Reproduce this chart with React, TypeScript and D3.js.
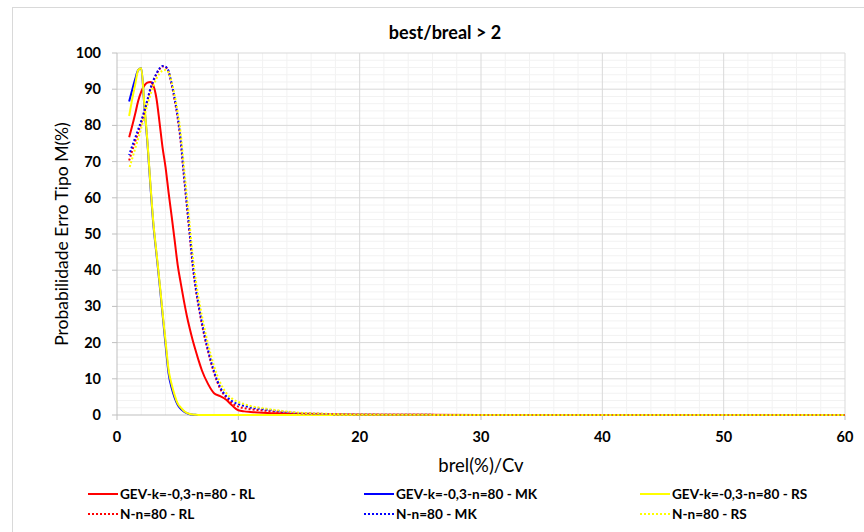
import React from "react";
import * as d3 from "d3";

const xs = [1,1.25,1.5,1.75,2,2.25,2.5,2.75,3,3.25,3.5,3.75,4,4.25,4.5,4.75,5,5.25,5.5,5.75,6,6.25,6.5,6.75,7,7.5,8,8.5,9,9.5,10,10.5,11,12,13,14,15,17,20,25,30,40,50,60];

const gevRL = [76.7,79.8,83.2,86.8,89.3,91,91.8,92,91,87.5,81,74,68.5,61.5,55,48.3,41.5,36.5,31.8,27.5,23.8,20.5,17.6,14.8,12.3,8.6,6.0,5.2,4.2,2.6,1.3,1.0,0.85,0.6,0.45,0.35,0.25,0.15,0.1,0.05,0,0,0,0];
const gevMK = [86.6,89.8,92.8,95.3,95.8,85.5,75.5,63.5,52.5,44.5,36.5,28,19.5,11.5,7.5,4.8,2.8,1.7,1.0,0.5,0.2,0.1,0.05,0,0,0,0,0,0,0,0,0,0,0,0,0,0,0,0,0,0,0,0,0];
const gevRS = [82.6,87.2,91.3,95.3,95.8,86,76,64,53,45,37,28.5,20.5,12.5,8.5,5.5,3.2,2.1,1.2,0.6,0.3,0.15,0.08,0.03,0,0,0,0,0,0,0,0,0,0,0,0,0,0,0,0,0,0,0,0];
const nRL = [70.3,73,75.6,78.1,80.7,83.6,86.7,89.9,92.2,94.1,95.5,96.3,96.1,94.8,91.3,87,82,75.5,66.5,58,49.5,41,34.5,29.5,25,17.6,11.6,7.3,4.8,3.2,2.3,1.9,1.6,1.25,0.95,0.7,0.5,0.3,0.15,0.05,0,0,0,0];
const nMK = [71.8,74.3,76.6,78.9,81.3,84,87,90.2,92.5,94.3,95.7,96.4,96.2,95,91.6,87.5,82.5,76,67,58.5,50,41.5,35,30,25.5,18,12,7.7,5.2,3.8,3.0,2.5,2.1,1.6,1.2,0.8,0.55,0.3,0.15,0.05,0,0,0,0];
const nRS = [68,70.8,73.6,76.4,79.3,82.4,85.5,88.4,90.9,92.9,94.3,95.1,95.3,94.6,92,88.3,83.8,77.8,69.3,60.8,52.3,43.8,37.2,32,27.4,19.7,13.5,9,6.1,4.5,3.6,3.0,2.5,1.9,1.4,0.95,0.65,0.35,0.15,0.05,0,0,0,0];

const seriesNames = [
  "GEV-k=-0,3-n=80 - RL",
  "GEV-k=-0,3-n=80 - MK",
  "GEV-k=-0,3-n=80 - RS",
  "N-n=80 - RL",
  "N-n=80 - MK",
  "N-n=80 - RS",
];
const seriesValues = [gevRL, gevMK, gevRS, nRL, nMK, nRS];
const seriesColors = ["#FF0000", "#0000FF", "#FFFF00", "#FF0000", "#0000FF", "#FFFF00"];
const seriesDotted = [false, false, false, true, true, true];
const dashOffsets = [0, 0, 0, 0, 1, 2];

const xTicks = [0, 10, 20, 30, 40, 50, 60];
const yTicks = [0, 10, 20, 30, 40, 50, 60, 70, 80, 90, 100];
const xMinor = d3.range(0, 61, 2);
const yMinor = d3.range(0, 101, 2);

const titleText = "best/breal > 2";
const xTitle = "brel(%)/Cv";
const yTitle = "Probabilidade Erro Tipo M(%)";

const W = 864, H = 532;
const L = 117, R = 845, T = 53, B = 415;
const FONT = "Lato, 'Open Sans', sans-serif";

export default function App() {
  const x = d3.scaleLinear().domain([0, 60]).range([L, R]);
  const y = d3.scaleLinear().domain([0, 100]).range([B, T]);
  const line = d3
    .line<number>()
    .x((_, i) => x(xs[i]))
    .y((v) => y(v))
    .curve(d3.curveMonotoneX);

  const legendCols = [88, 364, 640];
  const legendRows = [494, 514];

  return (
    <svg
      width={W}
      height={H}
      style={{ position: "absolute", left: 0, top: 0, background: "#fff" }}
      fontFamily={FONT}
    >
      <rect x={0} y={0} width={W} height={H} fill="#fff" />
      <rect x={12.5} y={7.5} width={880} height={560} fill="none" stroke="#D9D9D9" />
      <text x={445} y={39} textAnchor="middle" fontWeight="bold" fontSize={18} fill="#000">
        {titleText}
      </text>
      {/* minor grid */}
      {xMinor.filter((v) => v % 10 !== 0).map((v) => (
        <line key={"xm" + v} x1={x(v)} x2={x(v)} y1={T} y2={B} stroke="#F2F2F2" strokeWidth={1} />
      ))}
      {yMinor.filter((v) => v % 10 !== 0).map((v) => (
        <line key={"ym" + v} x1={L} x2={R} y1={y(v)} y2={y(v)} stroke="#F2F2F2" strokeWidth={1} />
      ))}
      {/* major grid */}
      {xTicks.filter((v) => v !== 0).map((v) => (
        <line key={"xg" + v} x1={x(v)} x2={x(v)} y1={T} y2={B} stroke="#D9D9D9" strokeWidth={1} />
      ))}
      {yTicks.filter((v) => v !== 0).map((v) => (
        <line key={"yg" + v} x1={L} x2={R} y1={y(v)} y2={y(v)} stroke="#D9D9D9" strokeWidth={1} />
      ))}
      {/* axes */}
      <line x1={L} x2={L} y1={T} y2={B} stroke="#BFBFBF" />
      <line x1={L} x2={R} y1={B} y2={B} stroke="#BFBFBF" />
      {xTicks.map((v) => (
        <line key={"xt" + v} x1={x(v)} x2={x(v)} y1={B} y2={B + 5} stroke="#BFBFBF" />
      ))}
      {yTicks.map((v) => (
        <line key={"yt" + v} x1={L - 5} x2={L} y1={y(v)} y2={y(v)} stroke="#BFBFBF" />
      ))}
      {xTicks.map((v) => (
        <text key={"xl" + v} x={x(v)} y={442} textAnchor="middle" fontWeight="bold" fontSize={14.5} fill="#000">
          {v}
        </text>
      ))}
      {yTicks.map((v) => (
        <text key={"yl" + v} x={101} y={y(v) + 5} textAnchor="end" fontWeight="bold" fontSize={14.5} fill="#000">
          {v}
        </text>
      ))}
      <text x={(L + R) / 2} y={472} textAnchor="middle" fontSize={18.5} fill="#000">
        {xTitle}
      </text>
      <text
        transform={`translate(68,${(T + B) / 2}) rotate(-90)`}
        textAnchor="middle"
        fontSize={17.5}
        fill="#000"
      >
        {yTitle}
      </text>
      {/* series */}
      {seriesValues.map((vals, i) => (
        <path
          key={"s" + i}
          d={line(vals) || ""}
          fill="none"
          stroke={seriesColors[i]}
          strokeWidth={2}
          strokeDasharray={seriesDotted[i] ? "2 2" : undefined}
          strokeDashoffset={seriesDotted[i] ? dashOffsets[i] : undefined}
          strokeLinejoin="round"
        />
      ))}
      {/* legend */}
      {seriesNames.map((name, i) => {
        const cx = legendCols[i % 3];
        const cy = legendRows[Math.floor(i / 3)];
        return (
          <g key={"lg" + i}>
            <line
              x1={cx}
              x2={cx + 30}
              y1={cy}
              y2={cy}
              stroke={seriesColors[i]}
              strokeWidth={2}
              strokeDasharray={seriesDotted[i] ? "2 2" : undefined}
            />
            <text x={cx + 32} y={cy + 5} fontSize={13.6} fontWeight="bold" fill="#000">
              {name}
            </text>
          </g>
        );
      })}
    </svg>
  );
}
